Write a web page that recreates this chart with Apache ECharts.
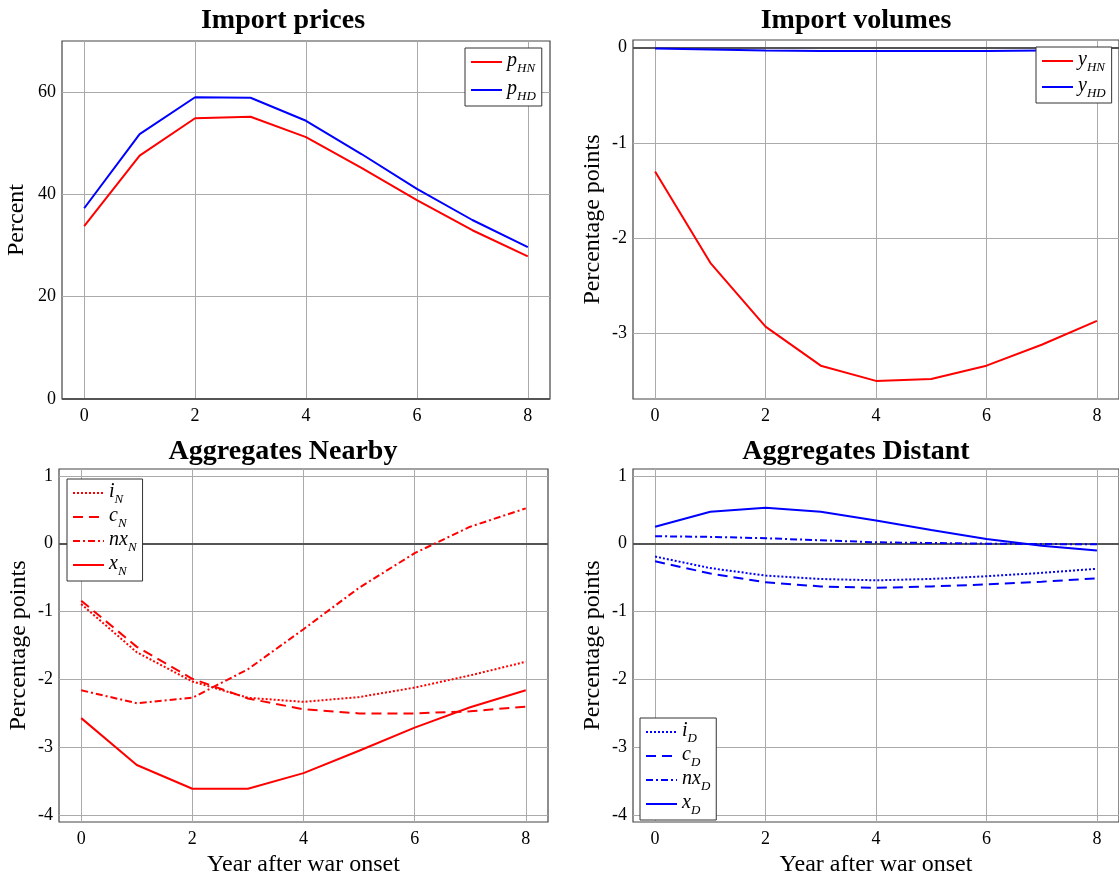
<!DOCTYPE html>
<html>
<head>
<meta charset="utf-8">
<script src="https://cdn.jsdelivr.net/npm/echarts@6/dist/echarts.min.js"></script>
<style>
html, body { margin: 0; padding: 0; background: #fff; }
#chart { width: 1119px; height: 878px; }
</style>
</head>
<body>
<div id="chart"></div>
<script>
// years after war onset
var years = [0, 1, 2, 3, 4, 5, 6, 7, 8];
var xTicks = [0, 2, 4, 6, 8];

// import prices (percent)
var pHN = [33.8, 47.6, 54.9, 55.2, 51.2, 45.2, 38.9, 33.0, 27.9];
var pHD = [37.3, 51.8, 59.0, 58.9, 54.4, 47.9, 41.1, 35.0, 29.7];
var priceTicks = [0, 20, 40, 60];

// import volumes (pp)
var yHN = [-1.30, -2.26, -2.93, -3.34, -3.50, -3.48, -3.34, -3.12, -2.87];
var yHD = [-0.01, -0.02, -0.03, -0.035, -0.035, -0.035, -0.035, -0.03, -0.03];
var volTicks = [-3, -2, -1, 0];

// aggregates nearby
var iN = [-0.89, -1.60, -2.03, -2.27, -2.33, -2.26, -2.12, -1.94, -1.74];
var cN = [-0.84, -1.52, -1.99, -2.28, -2.44, -2.50, -2.50, -2.47, -2.40];
var nxN = [-2.16, -2.35, -2.27, -1.85, -1.26, -0.65, -0.14, 0.25, 0.52];
var xN = [-2.57, -3.26, -3.61, -3.61, -3.38, -3.05, -2.71, -2.41, -2.16];

// aggregates distant
var iD = [-0.19, -0.36, -0.47, -0.52, -0.54, -0.52, -0.48, -0.43, -0.37];
var cD = [-0.26, -0.44, -0.57, -0.63, -0.65, -0.63, -0.60, -0.56, -0.51];
var nxD = [0.11, 0.10, 0.08, 0.05, 0.02, 0.01, 0.00, -0.005, -0.01];
var xD = [0.25, 0.47, 0.53, 0.47, 0.34, 0.20, 0.07, -0.03, -0.10];
var aggTicks = [-4, -3, -2, -1, 0, 1];

var FONT = 'Liberation Serif';
var RED = '#ff0000', BLUE = '#0000ff';

// legend names -> [letters, subscript]
var symbols = {
  pHN: ['p', 'HN'], pHD: ['p', 'HD'], yHN: ['y', 'HN'], yHD: ['y', 'HD'],
  iN: ['i', 'N'], cN: ['c', 'N'], nxN: ['nx', 'N'], xN: ['x', 'N'],
  iD: ['i', 'D'], cD: ['c', 'D'], nxD: ['nx', 'D'], xD: ['x', 'D']
};

var dashes = { solid: 'solid', dotted: [2, 2], dashed: [10, 6], dashdot: [7, 3, 2, 3] };

function pairs(vals) {
  return years.map(function (y, i) { return [y, vals[i]]; });
}

function line(name, vals, g, color, dash, zero) {
  var s = {
    name: name, type: 'line', xAxisIndex: g, yAxisIndex: g,
    data: pairs(vals), symbol: 'none', silent: true,
    lineStyle: { color: color, width: 2, type: dashes[dash] },
    itemStyle: { color: color }
  };
  if (zero) {
    s.markLine = {
      silent: true, symbol: 'none', label: { show: false }, z: 1,
      lineStyle: { color: '#555', width: 2, type: 'solid' },
      data: [{ yAxis: 0 }]
    };
  }
  return s;
}

function xAxis(g, withName) {
  return {
    gridIndex: g, type: 'value', min: -0.4, max: 8.4,
    axisLine: { show: false },
    axisTick: { show: false, customValues: xTicks },
    axisLabel: { customValues: xTicks, fontFamily: FONT, fontSize: 18, color: '#000', margin: 8 },
    splitLine: { show: true, lineStyle: { color: '#aaa', width: 1 } },
    name: withName ? 'Year after war onset' : '',
    nameLocation: 'middle', nameGap: 31,
    nameTextStyle: { fontFamily: FONT, fontSize: 24, color: '#000' }
  };
}

function yAxis(g, min, max, ticks, name, gap) {
  return {
    gridIndex: g, type: 'value', min: min, max: max,
    axisLine: { show: false },
    axisTick: { show: false, customValues: ticks },
    axisLabel: { customValues: ticks, fontFamily: FONT, fontSize: 18, color: '#000', margin: 6 },
    splitLine: { show: true, lineStyle: { color: '#aaa', width: 1 } },
    name: name, nameLocation: 'middle', nameGap: gap,
    nameTextStyle: { fontFamily: FONT, fontSize: 24, color: '#000' }
  };
}

function legend(names, left, top, gap) {
  return {
    orient: 'vertical', left: left, top: top, data: names,
    backgroundColor: '#fff', borderColor: '#333', borderWidth: 1,
    padding: [3, 6, 3, 5], itemWidth: 31, itemHeight: 12, itemGap: gap,
    selectedMode: false,
    itemStyle: { opacity: 0 },
    formatter: function (n) { return '{b|' + symbols[n][0] + '}{s|' + symbols[n][1] + '}'; },
    textStyle: {
      rich: {
        b: { fontFamily: FONT, fontStyle: 'italic', fontSize: 20, color: '#000', verticalAlign: 'bottom', lineHeight: 18 },
        s: { fontFamily: FONT, fontStyle: 'italic', fontSize: 13, color: '#000', verticalAlign: 'bottom', lineHeight: 12, padding: [0, 0, -4, 0] }
      }
    }
  };
}

function title(text, x, y) {
  return {
    text: text, left: x, top: y, textAlign: 'center',
    textStyle: { fontFamily: FONT, fontSize: 28, fontWeight: 'bold', color: '#000' }
  };
}

var dom = document.getElementById('chart');
var myChart = echarts.init(dom);

var option = {
  backgroundColor: '#fff',
  animation: false,
  title: [
    title('Import prices', 278, 2),
    title('Import volumes', 851, 2),
    title('Aggregates Nearby', 278, 433),
    title('Aggregates Distant', 851, 433)
  ],
  grid: [
    { left: 62, top: 41, width: 488, height: 358, show: true, borderColor: '#444', borderWidth: 1.2 },
    { left: 633, top: 40, width: 488, height: 359, show: true, borderColor: '#444', borderWidth: 1.2 },
    { left: 59, top: 469, width: 489, height: 354, show: true, borderColor: '#444', borderWidth: 1.2 },
    { left: 633, top: 469, width: 488, height: 354, show: true, borderColor: '#444', borderWidth: 1.2 }
  ],
  xAxis: [xAxis(0, false), xAxis(1, false), xAxis(2, true), xAxis(3, true)],
  yAxis: [
    yAxis(0, 0, 70, priceTicks, 'Percent', 33),
    yAxis(1, -3.69, 0.08, volTicks, 'Percentage points', 28),
    yAxis(2, -4.1, 1.1, aggTicks, 'Percentage points', 28),
    yAxis(3, -4.1, 1.1, aggTicks, 'Percentage points', 28)
  ],
  legend: [
    legend(['pHN', 'pHD'], 465, 48, 4),
    legend(['yHN', 'yHD'], 1036, 47, 2),
    legend(['iN', 'cN', 'nxN', 'xN'], 67, 479, 0),
    legend(['iD', 'cD', 'nxD', 'xD'], 640, 718, 0)
  ],
  series: [
    line('pHN', pHN, 0, RED, 'solid', true),
    line('pHD', pHD, 0, BLUE, 'solid'),
    line('yHN', yHN, 1, RED, 'solid', true),
    line('yHD', yHD, 1, BLUE, 'solid'),
    line('iN', iN, 2, RED, 'dotted', true),
    line('cN', cN, 2, RED, 'dashed'),
    line('nxN', nxN, 2, RED, 'dashdot'),
    line('xN', xN, 2, RED, 'solid'),
    line('iD', iD, 3, BLUE, 'dotted', true),
    line('cD', cD, 3, BLUE, 'dashed'),
    line('nxD', nxD, 3, BLUE, 'dashdot'),
    line('xD', xD, 3, BLUE, 'solid')
  ]
};
myChart.setOption(option, true);
</script>
</body>
</html>
